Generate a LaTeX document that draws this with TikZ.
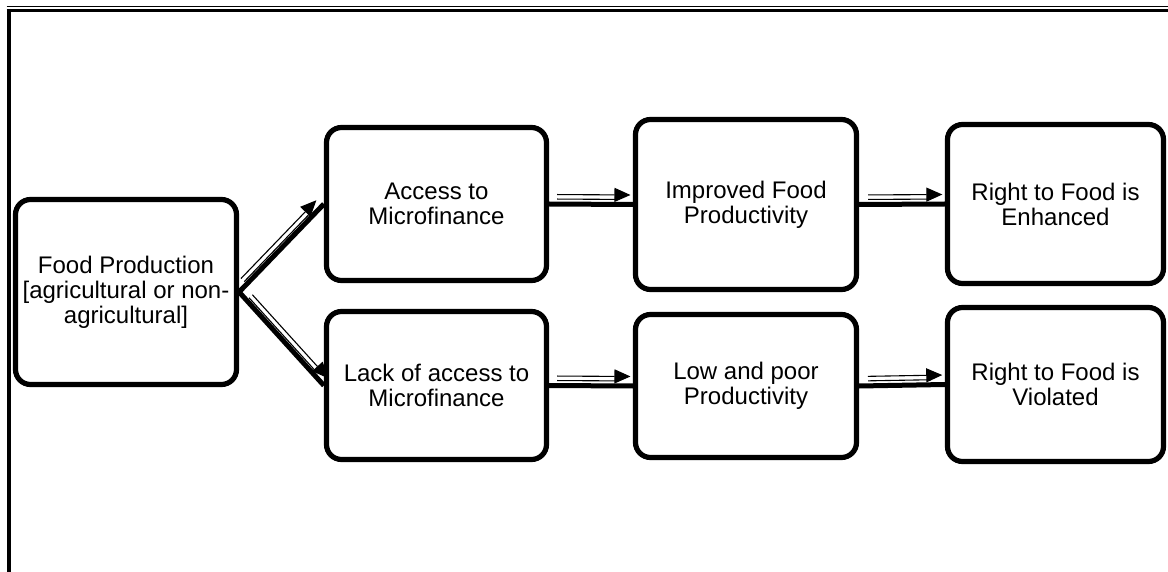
\documentclass[tikz,border=0pt]{standalone}
\usepackage{fontspec}
\setmainfont{Liberation Sans}
\usetikzlibrary{arrows.meta,calc}
\newcommand\flowarrow[6]{% from, to, along, offset1, offset2, tip shorten
  \draw[thickline] (#1) -- (#2);
  \coordinate (s) at ($(#1)!#3!(#2)$);
  \coordinate (e) at ($(#2)!#6!(#1)$);
  \coordinate (e2) at ($(#2)!14pt!(#1)$);
  \draw[arrline] ($(s)!#4!90:(e)$) -- ($(e)!#4!-90:(s)$);
  \draw[thinline] ($(s)!#5!90:(e)$) -- ($(e2)!#5!-90:(s)$);
}
\begin{document}
\begin{tikzpicture}[x=1pt,y=-1pt,
  box/.style={draw,line width=5.2pt,rounded corners=15pt,align=center,
    inner sep=0pt,font=\fontsize{24}{25}\selectfont},
  thickline/.style={line width=5pt},
  thinline/.style={line width=1.1pt},
  arrline/.style={line width=1.1pt,-{Triangle[length=16pt,width=14pt]}}]
\useasboundingbox (0,0) rectangle (1168,572);
% frame
\draw[line width=1.3pt] (6.7,6.3) -- (1168,6.3);
\draw[line width=2.9pt] (6.7,10.3) -- (1168,10.3);
\draw[line width=4.3pt] (8.8,9) -- (8.8,572);
% boxes
\node[box,minimum width=221pt,minimum height=185pt] (fp) at (126,292)
  {Food Production\\{[}agricultural or non-\\agricultural{]}};
\node[box,minimum width=220pt,minimum height=153pt] (access) at (436.5,204)
  {Access to\\Microfinance};
\node[box,minimum width=221pt,minimum height=170pt] (improved) at (746,204.5)
  {Improved Food\\Productivity};
\node[box,minimum width=216pt,minimum height=159pt] (enhanced) at (1055.5,204)
  {Right to Food is\\Enhanced};
\node[box,minimum width=220pt,minimum height=148pt] (lack) at (436.5,385.5)
  {Lack of access to\\Microfinance};
\node[box,minimum width=221pt,minimum height=143pt] (low) at (746,386)
  {Low and poor\\Productivity};
\node[box,minimum width=216pt,minimum height=154pt] (violated) at (1055.5,384.5)
  {Right to Food is\\Violated};
% connectors
\flowarrow{fp.east}{access.west}{11pt}{8pt}{3.5pt}{2.5pt}
\flowarrow{fp.east}{lack.west}{11pt}{8pt}{3.5pt}{2.5pt}
\flowarrow{access.east}{improved.west}{8pt}{9.5pt}{5pt}{2.5pt}
\flowarrow{improved.east}{enhanced.west}{9pt}{9.5pt}{5pt}{2.5pt}
\flowarrow{lack.east}{low.west}{8pt}{9.5pt}{5pt}{2.5pt}
\flowarrow{low.east}{violated.west}{9pt}{9.5pt}{5pt}{2.5pt}
\end{tikzpicture}
\end{document}
